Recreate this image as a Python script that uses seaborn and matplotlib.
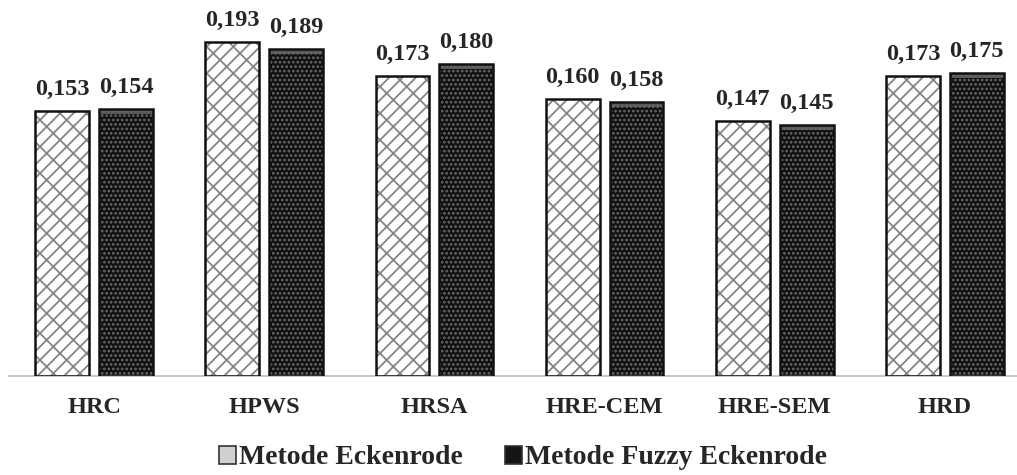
import matplotlib
matplotlib.use("Agg")
import matplotlib.pyplot as plt
import matplotlib.patches as mpatches
import numpy as np
import pandas as pd
import seaborn as sns

categories = ["HRC", "HPWS", "HRSA", "HRE-CEM", "HRE-SEM", "HRD"]
methods = ["Metode Eckenrode", "Metode Fuzzy Eckenrode"]
eckenrode = [0.153, 0.193, 0.173, 0.160, 0.147, 0.173]
fuzzy_eckenrode = [0.154, 0.189, 0.180, 0.158, 0.145, 0.175]

df = pd.DataFrame({
    "kategori": categories * 2,
    "metode": [methods[0]] * len(categories) + [methods[1]] * len(categories),
    "nilai": eckenrode + fuzzy_eckenrode,
})

# drawn at 80 dpi so the hatch patterns come out finer; point sizes scaled by k
DPI = 80
k = 100 / DPI

sns.set_style("white")
plt.rcParams["font.family"] = ["Liberation Serif", "DejaVu Serif"]
plt.rcParams["font.weight"] = "bold"
plt.rcParams["hatch.linewidth"] = 1.3 * k

styles = {
    methods[0]: {"face": "#ffffff", "hatch": "//\\", "hcolor": "#858585"},
    methods[1]: {"face": "#101010", "hatch": "...", "hcolor": "#6a6a6a"},
}

fig = plt.figure(figsize=(1017 / DPI, 475 / DPI), dpi=DPI)
ax = fig.add_axes([9 / 1017, 99 / 475, 1021 / 1017, 376 / 475])

sns.barplot(
    data=df, x="kategori", y="nilai", hue="metode", hue_order=methods,
    order=categories, width=0.75, gap=0.155, legend=False, ax=ax,
    palette=[styles[m]["face"] for m in methods],
)

# bars: seaborn draws them per hue level, in category order
for i, bar in enumerate(list(ax.patches)):
    st = styles[methods[i // len(categories)]]
    bar.set_facecolor(st["face"])
    bar.set_hatch(st["hatch"])
    bar.set_edgecolor(st["hcolor"])
    bar.set_linewidth(0)
    x0, w, h = bar.get_x(), bar.get_width(), bar.get_height()
    if i >= len(categories):
        # grey sheen along the top of the dark bars
        ax.add_patch(mpatches.Rectangle(
            (x0, h - 0.003), w, 0.003, facecolor="#666666", alpha=0.85,
            edgecolor="none", zorder=2.5,
        ))
    ax.add_patch(mpatches.Rectangle(
        (x0, 0), w, h, fill=False, edgecolor="#111111",
        linewidth=1.8 * k, zorder=3,
    ))
    ax.annotate(
        f"{h:.3f}".replace(".", ","),
        (x0 + w / 2, h),
        xytext=(0, 11.5 * k), textcoords="offset points",
        ha="center", va="baseline", fontsize=17.5 * k, fontweight="bold",
    )

ax.set_ylim(0, 0.217)
ax.set_xlim(-0.5, len(categories) - 0.5)
ax.set_xlabel("")
ax.set_ylabel("")
ax.set_yticks([])
for side in ["left", "right", "top"]:
    ax.spines[side].set_visible(False)
ax.spines["bottom"].set_color("#bdbdbd")
ax.spines["bottom"].set_linewidth(1.2 * k)

ax.set_xticks(np.arange(-0.5, len(categories), 1), minor=True)
ax.tick_params(axis="x", which="major", length=0, pad=15 * k,
               labelsize=17.5 * k)
ax.tick_params(axis="x", which="minor", length=7 * k, width=1.2 * k,
               color="#bdbdbd", direction="out")
for lbl in ax.get_xticklabels():
    lbl.set_fontweight("bold")

handles = [
    mpatches.Patch(facecolor="#d0d0d0", edgecolor="#333333", linewidth=1.2 * k),
    mpatches.Patch(facecolor="#151515", edgecolor="#333333", linewidth=1.2 * k),
]
fig.legend(
    handles, methods, loc="center", bbox_to_anchor=(0.514, 1 - 458 / 475),
    ncol=2, frameon=False, handlelength=0.62,
    handleheight=0.62, handletextpad=0.1, columnspacing=1.5,
    prop={"weight": "bold", "size": 20 * k},
)

fig.savefig("out.png", dpi=DPI)
